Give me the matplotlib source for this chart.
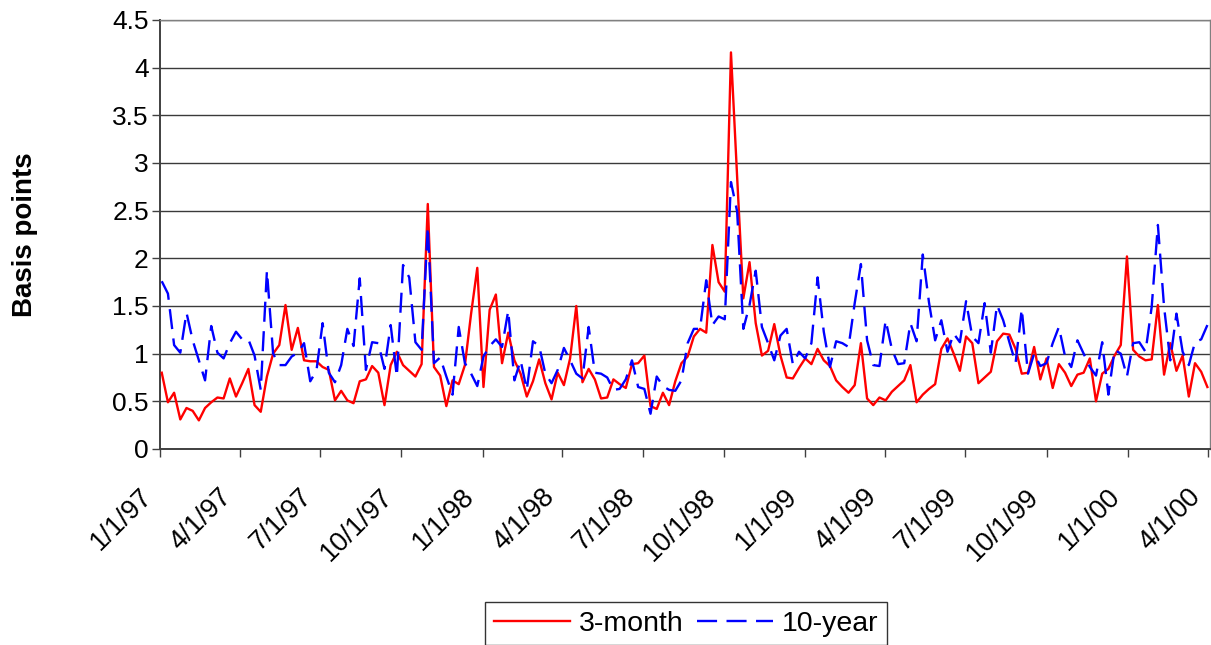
import matplotlib
matplotlib.use("Agg")
import matplotlib.pyplot as plt
import matplotlib.dates as mdates
from matplotlib.ticker import FuncFormatter, MultipleLocator
from matplotlib.transforms import ScaledTranslation
import pandas as pd

plt.rcParams['font.family'] = ['Liberation Sans', 'DejaVu Sans']

# weekly observations, first Friday of 1997 onward
dates = pd.date_range('1997-01-03', periods=170, freq='7D')

three_month = [
    0.80, 0.49, 0.59, 0.31, 0.43, 0.40, 0.30, 0.43, 0.49, 0.54,
    0.53, 0.74, 0.55, 0.69, 0.84, 0.46, 0.39, 0.76, 1.00, 1.09,
    1.51, 1.04, 1.27, 0.93, 0.92, 0.92, 0.86, 0.83, 0.51, 0.61,
    0.51, 0.48, 0.71, 0.73, 0.87, 0.80, 0.46, 0.88, 1.02, 0.88,
    0.82, 0.76, 0.89, 2.57, 0.86, 0.77, 0.45, 0.72, 0.68, 0.88,
    1.42, 1.90, 0.65, 1.46, 1.62, 0.90, 1.22, 0.93, 0.79, 0.55,
    0.71, 0.94, 0.69, 0.52, 0.80, 0.67, 0.95, 1.50, 0.70, 0.84,
    0.73, 0.53, 0.54, 0.73, 0.68, 0.64, 0.89, 0.90, 0.98, 0.45,
    0.42, 0.59, 0.46, 0.71, 0.90, 0.97, 1.18, 1.26, 1.22, 2.14,
    1.75, 1.65, 4.16, 2.85, 1.58, 1.96, 1.32, 0.98, 1.03, 1.31,
    0.98, 0.75, 0.74, 0.85, 0.95, 0.89, 1.05, 0.93, 0.87, 0.72,
    0.65, 0.59, 0.67, 1.11, 0.53, 0.46, 0.54, 0.51, 0.60, 0.66,
    0.72, 0.88, 0.49, 0.57, 0.63, 0.68, 1.05, 1.16, 1.00, 0.82,
    1.18, 1.11, 0.69, 0.75, 0.81, 1.13, 1.21, 1.20, 1.05, 0.79,
    0.80, 1.07, 0.73, 0.95, 0.64, 0.89, 0.80, 0.66, 0.78, 0.80,
    0.95, 0.50, 0.79, 0.84, 0.98, 1.09, 2.02, 1.04, 0.97, 0.93,
    0.94, 1.51, 0.78, 1.11, 0.82, 0.98, 0.55, 0.90, 0.81, 0.65,
]

ten_year = [
    1.76, 1.63, 1.09, 1.01, 1.43, 1.14, 0.93, 0.72, 1.29, 1.01,
    0.95, 1.11, 1.23, 1.15, 1.15, 0.98, 0.62, 1.87, 1.00, 0.88,
    0.88, 0.97, 1.01, 1.11, 0.71, 0.82, 1.32, 0.80, 0.70, 0.88,
    1.26, 1.08, 1.79, 0.83, 1.12, 1.11, 0.84, 1.30, 0.76, 1.93,
    1.80, 1.12, 1.04, 2.33, 0.90, 0.96, 0.76, 0.57, 1.28, 0.90,
    0.79, 0.66, 0.97, 1.08, 1.15, 1.07, 1.45, 0.72, 0.93, 0.62,
    1.13, 1.08, 0.79, 0.69, 0.83, 1.06, 0.93, 0.79, 0.74, 1.28,
    0.80, 0.79, 0.75, 0.62, 0.63, 0.73, 0.93, 0.65, 0.63, 0.37,
    0.76, 0.66, 0.62, 0.61, 0.72, 1.11, 1.26, 1.26, 1.77, 1.30,
    1.39, 1.36, 2.80, 2.49, 1.26, 1.51, 1.87, 1.28, 1.11, 0.93,
    1.19, 1.26, 0.89, 1.02, 0.95, 1.11, 1.80, 1.23, 0.86, 1.13,
    1.11, 1.07, 1.53, 1.94, 1.14, 0.88, 0.87, 1.35, 1.05, 0.89,
    0.90, 1.32, 1.13, 2.04, 1.54, 1.14, 1.35, 1.02, 1.21, 1.12,
    1.55, 1.18, 1.11, 1.53, 1.01, 1.51, 1.35, 1.12, 0.90, 1.47,
    0.79, 1.00, 0.87, 0.90, 1.11, 1.28, 0.97, 0.86, 1.14, 1.00,
    0.86, 0.77, 1.12, 0.57, 1.04, 1.00, 0.76, 1.11, 1.12, 1.02,
    1.49, 2.35, 1.49, 0.93, 1.42, 1.02, 0.88, 1.12, 1.15, 1.30,
]

quarter_ticks = pd.date_range('1997-01-01', '2000-04-01', freq='QS')

fig = plt.figure(figsize=(12.11, 6.45), dpi=100)
ax = fig.add_axes([0.1321, 0.3039, 0.8671, 0.6651])

ax.plot(dates, three_month, color='#ff0000', lw=1.7, label='3-month', zorder=3)
ax.plot(dates, ten_year, color='#0000ff', lw=1.7, dashes=(8.5, 4), label='10-year', zorder=4)

ax.set_xlim(pd.Timestamp('1997-01-01'), pd.Timestamp('2000-04-03'))
ax.set_ylim(0, 4.5)
ax.yaxis.set_major_locator(MultipleLocator(0.5))
ax.yaxis.set_major_formatter(FuncFormatter(lambda v, p: f'{v:g}'))
ax.grid(axis='y', color='#3a3a3a', lw=1.0)
ax.set_axisbelow(True)

ax.set_xticks(quarter_ticks)
ax.xaxis.set_major_formatter(FuncFormatter(
    lambda v, p: (lambda d: f'{d.month}/{d.day}/{d:%y}')(mdates.num2date(v))))

ax.tick_params(axis='both', direction='out', length=6, width=1, color='#404040',
               labelsize=19)
ax.tick_params(axis='x', labelsize=19.5)
ax.tick_params(axis='y', pad=2)
ax.tick_params(axis='x', pad=4)
# Excel places the rotated dates a bit down-left of each tick
shift = ScaledTranslation(-0.21, -0.21, fig.dpi_scale_trans)
for lab in ax.get_xticklabels():
    lab.set_rotation(45)
    lab.set_ha('right')
    lab.set_va('top')
    lab.set_rotation_mode('anchor')
    lab.set_transform(lab.get_transform() + shift)

for side in ['left', 'bottom']:
    ax.spines[side].set_color('#404040')
    ax.spines[side].set_linewidth(1.4)
for side in ['top', 'right']:
    ax.spines[side].set_color('#808080')
    ax.spines[side].set_linewidth(1.0)

ax.set_ylabel('Basis points', fontsize=20, fontweight='bold')
ax.yaxis.set_label_coords(-0.1165, 0.5)

leg = fig.legend(loc='upper center', bbox_to_anchor=(686 / 1211, 1 - 602 / 645),
                 ncol=2, fontsize=20.5, frameon=True, fancybox=False,
                 edgecolor='black', handlelength=2.7, handletextpad=0.3,
                 columnspacing=0.45, borderpad=0.3, borderaxespad=0)
leg.get_frame().set_linewidth(1.0)

fig.savefig('out.png', dpi=100)
